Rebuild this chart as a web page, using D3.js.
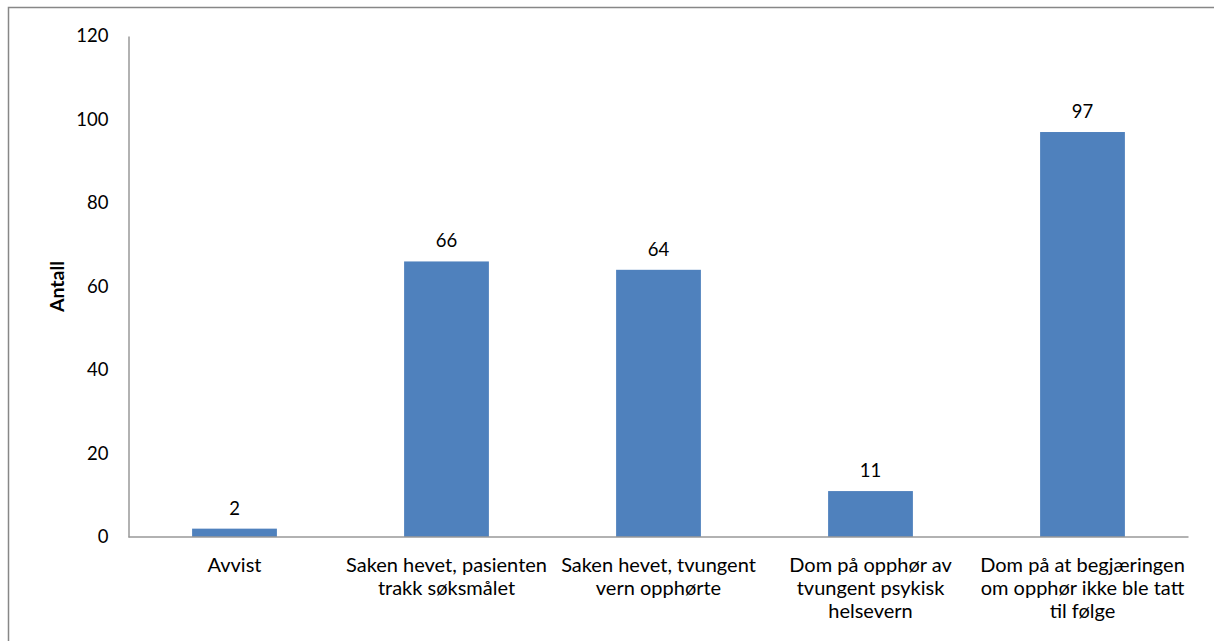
<!DOCTYPE html>
<html><head><meta charset="utf-8">
<script src="https://cdn.jsdelivr.net/npm/d3@7"></script>
<style>body{margin:0;background:#fff}svg{display:block}</style>
</head><body>
<script>
const categories = [
  ["Avvist"],
  ["Saken hevet, pasienten", "trakk søksmålet"],
  ["Saken hevet, tvungent", "vern opphørte"],
  ["Dom på opphør av", "tvungent psykisk", "helsevern"],
  ["Dom på at begjæringen", "om opphør ikke ble tatt", "til følge"]
];
const values = [2, 66, 64, 11, 97];
const yTicks = [0, 20, 40, 60, 80, 100, 120];
const yTitle = "Antall";

const W = 1214, H = 641;
const m = {left: 128.5, right: 1188.5, top: 36, bottom: 537};
const font = "Lato, 'Open Sans', sans-serif";
const fs = 18.5;

const svg = d3.select("body").append("svg").attr("width", W).attr("height", H);
svg.append("rect").attr("x", 8.5).attr("y", 7.5).attr("width", W).attr("height", H)
  .attr("fill", "none").attr("stroke", "#878787").attr("stroke-width", 1.5);

const x = d3.scaleBand().domain(d3.range(values.length)).range([m.left, m.right]).paddingInner(0.6).paddingOuter(0.3);
const y = d3.scaleLinear().domain([0, 120]).range([m.bottom, m.top]);

// bars
svg.selectAll("rect.bar").data(values).join("rect").attr("class", "bar")
  .attr("x", (d, i) => x(i)).attr("width", x.bandwidth())
  .attr("y", d => y(d)).attr("height", d => y(0) - y(d)).attr("fill", "#4F81BD");

// value labels
svg.selectAll("text.val").data(values).join("text").attr("class", "val")
  .attr("x", (d, i) => x(i) + x.bandwidth() / 2).attr("y", d => y(d) - 14)
  .attr("text-anchor", "middle").attr("font-family", font).attr("font-size", fs).attr("fill", "#000")
  .text(d => d);

// y axis
const yAxis = d3.axisLeft(y).tickValues(yTicks).tickSize(0).tickPadding(20);
const gy = svg.append("g").attr("transform", `translate(${m.left},0)`).call(yAxis);
gy.select(".domain").attr("stroke", "#999").attr("stroke-width", 1.5);
gy.selectAll("text").attr("font-family", font).attr("font-size", fs).attr("fill", "#000");

// x axis
const xAxis = d3.axisBottom(x).tickSize(0).tickFormat("");
const gx = svg.append("g").attr("transform", `translate(0,${m.bottom})`).call(xAxis);
gx.select(".domain").attr("stroke", "#999").attr("stroke-width", 1.5).attr("d", `M${m.left},0H${m.right}`);

// category labels
categories.forEach((lines, i) => {
  const t = svg.append("text").attr("text-anchor", "middle").attr("font-family", font)
    .attr("font-size", 20).attr("fill", "#000");
  lines.forEach((ln, j) => {
    t.append("tspan").attr("x", x(i) + x.bandwidth() / 2).attr("y", 572 + j * 23).text(ln);
  });
});

// y title
svg.append("text").attr("transform", `translate(64,${(m.top + m.bottom) / 2}) rotate(-90)`)
  .attr("text-anchor", "middle").attr("font-family", font).attr("font-size", 19.5)
  .attr("font-weight", "bold").attr("fill", "#000").text(yTitle);
</script>
</body></html>
